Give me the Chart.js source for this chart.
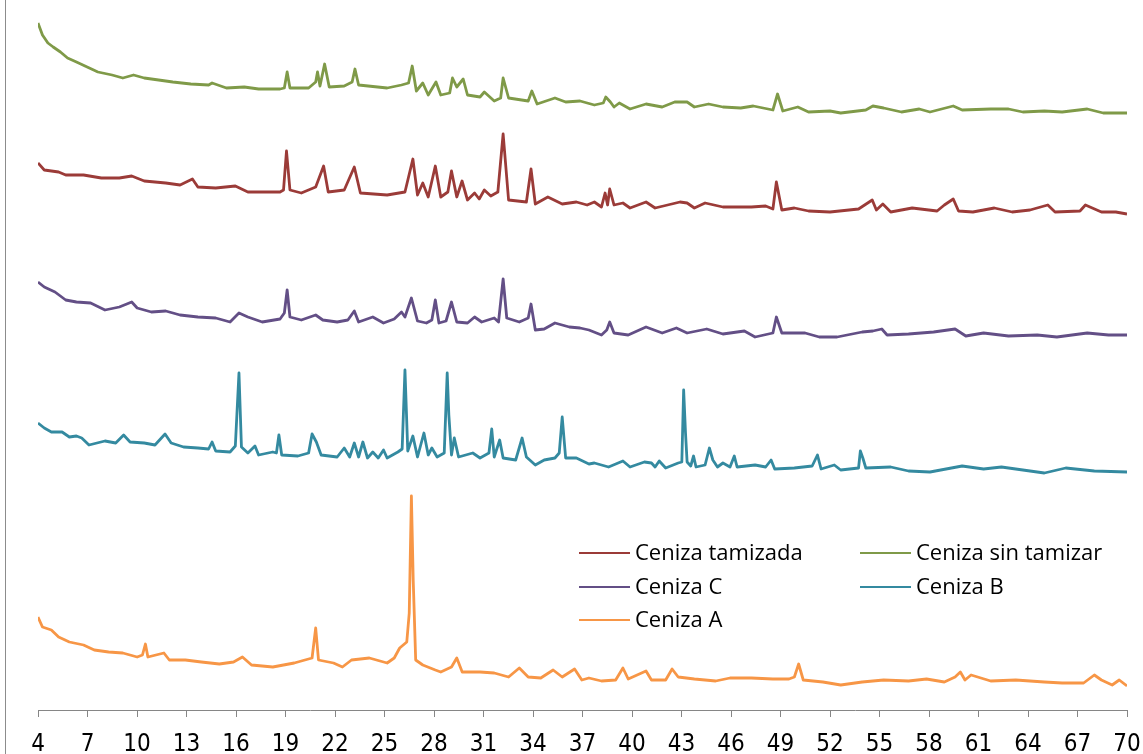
<!DOCTYPE html>
<html>
<head>
<meta charset="utf-8">
<script src="https://cdn.jsdelivr.net/npm/chart.js@4.4.1/dist/chart.umd.min.js"></script>
<style>
    body { margin: 0; background: #ffffff; }
    #wrap { width: 1143px; height: 754px; position: relative; }
</style>
</head>
<body>
<div id="wrap"><canvas id="xrd"></canvas></div>
<script>
// 2-theta ticks shown on the bottom axis
const TICKS_2THETA = [4, 7, 10, 13, 16, 19, 22, 25, 28, 31, 34, 37, 40, 43, 46, 49, 52, 55, 58, 61, 64, 67, 70]

const SERIES_LABELS = ["Ceniza tamizada", "Ceniza sin tamizar", "Ceniza C", "Ceniza B", "Ceniza A"]
const SERIES_COLORS = ["#9b3b38", "#7f9a48", "#634f86", "#348aa0", "#f79646"]

// [2theta, intensity (stacked, arbitrary units)]
const cenizaSinTamizar = [
    [4.0, 687], [4.27, 675], [4.6, 667], [4.92, 663], [5.36, 658], [5.79, 652], [6.33, 648], [6.98, 643],
    [7.63, 638], [8.49, 635], [9.14, 632], [9.79, 635], [10.44, 632], [11.31, 630], [12.17, 628], [13.26, 626],
    [14.34, 625], [14.55, 627], [15.42, 622], [16.5, 623], [17.37, 621], [18.67, 621], [18.93, 622], [19.1, 638],
    [19.27, 622], [20.4, 622], [20.83, 628], [20.94, 638], [21.09, 624], [21.37, 646], [21.65, 623], [22.56, 624],
    [23.04, 628], [23.21, 641], [23.43, 625], [25.16, 622], [26.03, 625], [26.46, 627], [26.68, 644], [26.93, 619],
    [27.32, 627], [27.65, 615], [28.12, 628], [28.41, 615], [28.95, 617], [29.12, 632], [29.38, 623], [29.77, 631],
    [30.03, 615], [30.79, 613], [31.05, 618], [31.65, 609], [32.04, 612], [32.19, 632], [32.52, 612], [33.71, 609],
    [33.93, 619], [34.25, 606], [35.33, 612], [35.98, 608], [36.85, 609], [37.72, 605], [38.26, 607], [38.41, 613],
    [38.69, 608], [38.91, 603], [39.23, 607], [39.88, 601], [40.85, 606], [41.83, 603], [42.59, 608], [43.34, 608],
    [43.78, 603], [44.64, 606], [45.51, 603], [46.59, 602], [47.35, 604], [48.54, 600], [48.82, 616], [49.14, 599],
    [50.05, 603], [50.7, 598], [52.0, 599], [52.65, 597], [54.17, 600], [54.6, 604], [55.25, 602], [56.33, 598],
    [57.41, 601], [58.06, 598], [59.47, 604], [60.01, 600], [61.74, 601], [62.82, 601], [63.69, 598], [64.99, 599],
    [66.07, 598], [67.59, 601], [68.56, 597], [70.0, 597]
]

const cenizaTamizada = [
    [4.0, 547], [4.38, 540], [5.25, 538], [5.68, 535], [6.76, 535], [7.84, 532], [8.93, 532], [9.68, 534],
    [10.44, 529], [11.74, 527], [12.61, 525], [13.36, 531], [13.69, 523], [14.77, 522], [15.96, 524], [16.72, 518],
    [17.8, 518], [18.67, 518], [18.88, 520], [19.06, 559], [19.27, 520], [19.96, 517], [20.83, 523], [21.31, 544],
    [21.59, 518], [22.56, 520], [23.17, 543], [23.54, 517], [25.16, 515], [26.24, 518], [26.72, 551], [27.0, 515],
    [27.32, 527], [27.65, 513], [28.08, 544], [28.41, 513], [28.84, 518], [29.06, 539], [29.38, 513], [29.7, 529],
    [30.03, 510], [30.46, 517], [30.74, 511], [31.05, 520], [31.44, 514], [31.87, 518], [32.19, 576], [32.52, 510],
    [33.6, 508], [33.88, 541], [34.14, 506], [34.9, 513], [35.77, 506], [36.63, 508], [37.28, 505], [37.72, 508],
    [38.15, 503], [38.37, 517], [38.52, 505], [38.65, 521], [38.91, 505], [39.45, 507], [39.88, 502], [40.85, 508],
    [41.4, 502], [42.91, 508], [43.34, 507], [43.78, 502], [44.43, 507], [45.51, 503], [46.37, 503], [47.24, 503],
    [48.1, 504], [48.54, 501], [48.75, 528], [49.08, 500], [49.84, 502], [50.7, 499], [52.0, 498], [53.73, 501],
    [54.56, 510], [54.81, 500], [55.2, 506], [55.68, 498], [56.98, 502], [58.49, 499], [58.93, 505], [59.47, 511],
    [59.79, 499], [60.66, 498], [61.96, 502], [63.04, 498], [64.12, 500], [65.2, 505], [65.64, 498], [67.15, 499],
    [67.48, 505], [68.45, 498], [69.32, 498], [70.0, 496]
]

const cenizaC = [
    [4.0, 428], [4.38, 423], [5.03, 418], [5.68, 410], [6.33, 408], [7.19, 407], [8.06, 400], [8.93, 403],
    [9.68, 408], [10.01, 402], [10.87, 398], [11.74, 399], [12.61, 395], [13.69, 393], [14.77, 392], [15.64, 388],
    [16.18, 397], [16.72, 393], [17.59, 388], [18.67, 391], [18.93, 397], [19.1, 420], [19.27, 393], [19.96, 390],
    [20.83, 395], [21.26, 390], [22.13, 388], [22.78, 390], [23.17, 399], [23.43, 388], [24.29, 393], [24.94, 387],
    [25.59, 391], [26.03, 398], [26.24, 393], [26.63, 412], [27.0, 389], [27.54, 387], [27.87, 390], [28.08, 410],
    [28.3, 387], [28.73, 389], [29.06, 408], [29.38, 388], [30.03, 387], [30.46, 393], [30.89, 388], [31.65, 392],
    [31.91, 388], [32.19, 431], [32.41, 392], [33.17, 388], [33.71, 392], [33.88, 406], [34.14, 380], [34.68, 381],
    [35.33, 387], [36.2, 383], [36.85, 382], [37.39, 380], [38.15, 375], [38.47, 380], [38.65, 388], [38.91, 377],
    [39.77, 375], [40.85, 383], [41.83, 377], [42.69, 382], [43.34, 377], [44.53, 381], [45.51, 376], [46.81, 379],
    [47.46, 373], [48.54, 377], [48.75, 393], [49.08, 377], [50.49, 377], [51.35, 373], [52.43, 373], [53.95, 378],
    [54.6, 379], [55.14, 381], [55.46, 375], [56.76, 376], [58.28, 378], [59.58, 381], [60.23, 374], [61.31, 377],
    [62.82, 374], [64.56, 375], [65.75, 373], [67.59, 377], [68.88, 375], [70.0, 375]
]

const cenizaB = [
    [4.0, 287], [4.38, 282], [4.81, 278], [5.46, 278], [5.9, 273], [6.33, 274], [6.65, 272], [7.09, 265],
    [8.06, 269], [8.71, 267], [9.19, 275], [9.58, 268], [10.44, 267], [11.09, 265], [11.7, 276], [12.07, 267],
    [12.82, 263], [13.69, 262], [14.34, 261], [14.55, 268], [14.77, 259], [15.64, 258], [15.96, 264], [16.18, 337],
    [16.33, 263], [16.72, 257], [17.15, 264], [17.37, 255], [18.23, 258], [18.45, 257], [18.6, 275], [18.77, 255],
    [19.75, 254], [20.4, 257], [20.61, 276], [20.87, 268], [21.16, 255], [22.13, 253], [22.56, 262], [22.89, 253],
    [23.17, 267], [23.43, 253], [23.69, 268], [23.97, 252], [24.29, 258], [24.62, 252], [24.94, 260], [25.16, 252],
    [25.81, 258], [26.07, 261], [26.24, 340], [26.41, 259], [26.72, 274], [27.0, 253], [27.39, 277], [27.65, 255],
    [27.87, 262], [28.19, 253], [28.62, 257], [28.8, 337], [28.9, 295], [29.06, 255], [29.23, 272], [29.49, 253],
    [30.35, 257], [30.79, 252], [31.33, 257], [31.5, 281], [31.65, 253], [31.98, 270], [32.19, 252], [32.95, 250],
    [33.34, 272], [33.6, 253], [34.14, 245], [34.68, 250], [35.33, 252], [35.59, 257], [35.77, 293], [35.98, 252],
    [36.63, 252], [37.39, 246], [37.72, 247], [38.58, 243], [39.45, 249], [39.88, 243], [40.75, 248], [41.18, 247],
    [41.4, 243], [41.65, 249], [42.04, 242], [42.8, 247], [43.02, 248], [43.13, 320], [43.24, 278], [43.34, 248],
    [43.56, 244], [43.73, 254], [43.88, 243], [44.43, 245], [44.69, 262], [44.9, 250], [45.18, 243], [45.51, 247],
    [45.94, 243], [46.2, 254], [46.37, 243], [47.46, 245], [48.1, 243], [48.43, 250], [48.65, 241], [49.84, 242],
    [50.92, 244], [51.24, 255], [51.46, 241], [52.26, 245], [52.65, 240], [53.73, 242], [53.84, 259], [53.99, 252],
    [54.17, 242], [55.68, 243], [56.76, 239], [58.06, 238], [60.01, 244], [61.31, 241], [62.39, 243], [63.69, 240],
    [64.99, 237], [66.29, 242], [68.02, 239], [70.0, 238]
]

const cenizaA = [
    [4.0, 93], [4.27, 83], [4.81, 80], [5.25, 73], [5.9, 68], [6.76, 65], [7.41, 60], [8.28, 58],
    [9.14, 57], [10.01, 53], [10.33, 55], [10.51, 66], [10.66, 53], [11.63, 57], [11.96, 50], [12.93, 50],
    [13.9, 48], [14.99, 46], [15.85, 48], [16.39, 53], [16.94, 45], [18.23, 43], [19.53, 47], [20.61, 52],
    [20.83, 82], [21.0, 50], [21.91, 47], [22.45, 43], [23.0, 50], [24.08, 52], [25.16, 47], [25.59, 52],
    [25.92, 62], [26.35, 68], [26.5, 97], [26.63, 214], [26.74, 130], [26.89, 50], [27.32, 45], [28.08, 40],
    [28.41, 38], [29.06, 43], [29.38, 52], [29.71, 38], [30.79, 38], [31.65, 37], [32.52, 33], [33.17, 42],
    [33.71, 33], [34.47, 32], [35.22, 40], [35.77, 33], [36.52, 41], [36.96, 30], [37.39, 32], [38.15, 29],
    [39.01, 30], [39.45, 42], [39.77, 31], [40.31, 35], [40.85, 39], [41.18, 30], [42.04, 30], [42.43, 41],
    [42.8, 33], [43.78, 31], [45.07, 29], [45.94, 32], [47.24, 32], [48.54, 31], [49.51, 31], [49.84, 33],
    [50.1, 46], [50.38, 30], [51.57, 28], [52.65, 25], [53.95, 28], [55.25, 30], [56.76, 29], [57.85, 31],
    [58.93, 28], [59.58, 33], [59.9, 38], [60.18, 30], [60.55, 35], [61.74, 29], [63.26, 30], [64.12, 29],
    [64.99, 28], [66.07, 27], [67.37, 27], [68.02, 35], [68.45, 30], [69.1, 25], [69.53, 30], [70.0, 24]
]

const SERIES_DATA = [cenizaTamizada, cenizaSinTamizar, cenizaC, cenizaB, cenizaA]

// legend is drawn inside the plot, two columns like the spreadsheet version
const legendInPlot = {
    id: "legendInPlot",
    afterDraw(chart) {
        const ctx = chart.ctx
        const rows = [553, 587, 620]
        const cols = [579, 860]
        ctx.save()
        ctx.font = "22px 'Open Sans', 'Liberation Sans', sans-serif"
        ctx.textBaseline = "middle"
        ctx.fillStyle = "#000000"
        SERIES_LABELS.forEach((label, i) => {
            let x = cols[i % 2]
            let y = rows[Math.floor(i / 2)]
            ctx.strokeStyle = SERIES_COLORS[i]
            ctx.lineWidth = 2
            ctx.beginPath()
            ctx.moveTo(x, y)
            ctx.lineTo(x + 51, y)
            ctx.stroke()
            ctx.fillText(label, x + 56, y + 1)
        })
        ctx.restore()
    }
}

// thin border on the left edge of the chart frame
const frameEdge = {
    id: "frameEdge",
    beforeDraw(chart) {
        const ctx = chart.ctx
        ctx.save()
        ctx.strokeStyle = "#8c8c8c"
        ctx.lineWidth = 1
        ctx.beginPath()
        ctx.moveTo(5.5, 0)
        ctx.lineTo(5.5, chart.height)
        ctx.stroke()
        ctx.restore()
    }
}

window.onload = () => {
    const ctx = document.getElementById("xrd").getContext("2d")
    new Chart(ctx, {
        type: "line",
        data: {
            datasets: SERIES_DATA.map((points, i) => ({
                label: SERIES_LABELS[i],
                data: points.map(p => ({ x: p[0], y: p[1] })),
                borderColor: SERIES_COLORS[i],
                borderWidth: 2.8,
                borderJoinStyle: "round",
                pointRadius: 0,
                tension: 0,
                fill: false
            }))
        },
        options: {
            responsive: true,
            maintainAspectRatio: false,
            animation: false,
            events: [],
            layout: { padding: { left: 38, right: 16, top: 20, bottom: 0 } },
            plugins: {
                legend: { display: false },
                tooltip: { enabled: false }
            },
            scales: {
                x: {
                    type: "linear",
                    min: 4,
                    max: 70,
                    afterBuildTicks: axis => {
                        axis.ticks = TICKS_2THETA.map(v => ({ value: v }))
                    },
                    // keep the axis a fixed height and let the end labels overhang
                    afterFit: axis => {
                        axis.height = 44
                        axis.paddingLeft = 0
                        axis.paddingRight = 0
                    },
                    grid: {
                        drawOnChartArea: false,
                        drawTicks: true,
                        tickLength: 7,
                        color: "#868686"
                    },
                    border: { display: true, color: "#868686", width: 1 },
                    ticks: {
                        autoSkip: false,
                        maxRotation: 0,
                        padding: 16,
                        color: "#000000",
                        font: { family: "'Liberation Sans Narrow', 'DejaVu Sans Condensed', sans-serif", size: 24, lineHeight: 1 }
                    }
                },
                y: {
                    display: false,
                    min: 0,
                    max: 690
                }
            }
        },
        plugins: [frameEdge, legendInPlot]
    })
}
</script>
</body>
</html>
